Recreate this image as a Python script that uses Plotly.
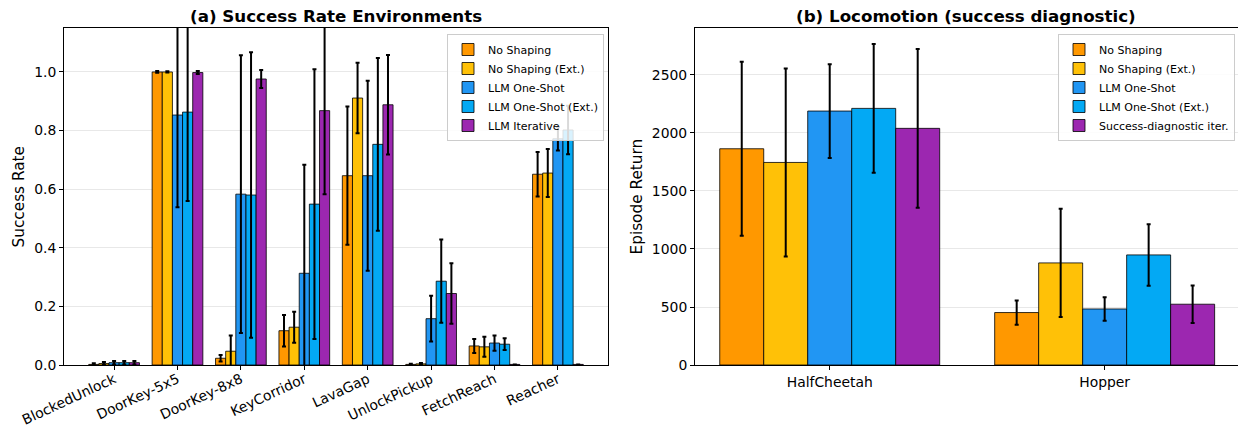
import plotly.graph_objects as go

# ---------------- data ----------------
envs = ["BlockedUnlock", "DoorKey-5x5", "DoorKey-8x8", "KeyCorridor",
        "LavaGap", "UnlockPickup", "FetchReach", "Reacher"]
methods_a = ["No Shaping", "No Shaping (Ext.)", "LLM One-Shot",
             "LLM One-Shot (Ext.)", "LLM Iterative"]

sr_no_shaping         = [0.002, 1.000, 0.023, 0.117, 0.646, 0.002, 0.065, 0.651]
sr_no_shaping_err     = [0.004, 0.003, 0.011, 0.054, 0.236, 0.002, 0.024, 0.076]
sr_no_shaping_ext     = [0.005, 1.000, 0.047, 0.129, 0.911, 0.004, 0.062, 0.655]
sr_no_shaping_ext_err = [0.005, 0.002, 0.054, 0.053, 0.120, 0.003, 0.034, 0.082]
sr_one_shot           = [0.008, 0.853, 0.583, 0.313, 0.646, 0.158, 0.075, 0.772]
sr_one_shot_err       = [0.006, 0.315, 0.474, 0.370, 0.324, 0.078, 0.026, 0.040]
sr_one_shot_ext       = [0.008, 0.863, 0.580, 0.549, 0.753, 0.286, 0.071, 0.802]
sr_one_shot_ext_err   = [0.006, 0.303, 0.487, 0.460, 0.295, 0.142, 0.020, 0.083]
sr_iterative          = [0.008, 0.998, 0.976, 0.868, 0.888, 0.244, 0.002, 0.002]
sr_iterative_err      = [0.006, 0.005, 0.031, 0.285, 0.170, 0.103, 0.000, 0.000]

loco_envs = ["HalfCheetah", "Hopper"]
methods_b = ["No Shaping", "No Shaping (Ext.)", "LLM One-Shot",
             "LLM One-Shot (Ext.)", "Success-diagnostic iter."]
ret_no_shaping         = [1864, 452]
ret_no_shaping_err     = [750, 104]
ret_no_shaping_ext     = [1746, 880]
ret_no_shaping_ext_err = [810, 466]
ret_one_shot           = [2189, 483]
ret_one_shot_err       = [404, 102]
ret_one_shot_ext       = [2212, 949]
ret_one_shot_ext_err   = [555, 265]
ret_iterative          = [2040, 524]
ret_iterative_err      = [685, 161]

colors = ["#FF9800", "#FFC107", "#2196F3", "#03A9F4", "#9C27B0"]

# ---------------- figure ----------------
W, H = 1238, 426
ML, MR, MT, MB = 64, 0, 28, 61
FONT = "DejaVu Sans"
pw = W - ML - MR
ph = H - MT - MB


def px(x):
    return (x - ML) / pw


fig = go.Figure()

vals_a = [sr_no_shaping, sr_no_shaping_ext, sr_one_shot, sr_one_shot_ext, sr_iterative]
errs_a = [sr_no_shaping_err, sr_no_shaping_ext_err, sr_one_shot_err,
          sr_one_shot_ext_err, sr_iterative_err]
for name, v, e, c in zip(methods_a, vals_a, errs_a, colors):
    fig.add_trace(go.Bar(
        x=envs, y=v, name=name, xaxis="x", yaxis="y", legend="legend",
        marker=dict(color=c, line=dict(color="rgba(0,0,0,0.8)", width=1)),
        error_y=dict(type="data", array=e, visible=True, color="black",
                     thickness=2, width=2),
    ))

vals_b = [ret_no_shaping, ret_no_shaping_ext, ret_one_shot, ret_one_shot_ext, ret_iterative]
errs_b = [ret_no_shaping_err, ret_no_shaping_ext_err, ret_one_shot_err,
          ret_one_shot_ext_err, ret_iterative_err]
for name, v, e, c in zip(methods_b, vals_b, errs_b, colors):
    fig.add_trace(go.Bar(
        x=loco_envs, y=v, name=name, xaxis="x2", yaxis="y2", legend="legend2",
        marker=dict(color=c, line=dict(color="rgba(0,0,0,0.8)", width=1)),
        error_y=dict(type="data", array=e, visible=True, color="black",
                     thickness=2, width=2),
    ))

axis_common = dict(showline=True, linecolor="black", linewidth=1, mirror=True,
                   ticks="outside", ticklen=4, tickcolor="black", tickwidth=1,
                   tickfont=dict(family=FONT, size=13.9, color="black"),
                   zeroline=False, automargin=False)

fig.update_layout(
    width=W, height=H,
    margin=dict(l=ML, r=MR, t=MT, b=MB, autoexpand=False),
    paper_bgcolor="white", plot_bgcolor="white",
    barmode="group", bargap=0.2, bargroupgap=0,
    font=dict(family=FONT, color="black"),
    xaxis=dict(domain=[0, px(608)], anchor="y", type="category",
               range=[-0.79, 7.79], tickangle=-25, ticklabelstandoff=-4,
               showgrid=False, **axis_common),
    yaxis=dict(domain=[0, 1], anchor="x", range=[0, 1.15],
               tickvals=[0, 0.2, 0.4, 0.6, 0.8, 1.0], tickformat=".1f",
               showgrid=True, gridcolor="#e8e8e8", gridwidth=1, **axis_common),
    xaxis2=dict(domain=[px(695), 1.0], anchor="y2", type="category",
                range=[-0.49, 1.485], showgrid=False, **axis_common),
    yaxis2=dict(domain=[0, 1], anchor="x2", range=[0, 2905],
                tickvals=[0, 500, 1000, 1500, 2000, 2500],
                showgrid=True, gridcolor="#e8e8e8", gridwidth=1, **axis_common),
    legend=dict(x=px(604), y=1 - 6 / ph, xanchor="right", yanchor="top",
                bgcolor="rgba(255,255,255,0.85)", bordercolor="#cccccc", borderwidth=1,
                font=dict(family=FONT, size=11, color="black"),
                tracegroupgap=0, itemwidth=30),
    legend2=dict(x=px(1235), y=1 - 6 / ph, xanchor="right", yanchor="top",
                 bgcolor="rgba(255,255,255,0.85)", bordercolor="#cccccc", borderwidth=1,
                 font=dict(family=FONT, size=11, color="black"),
                 tracegroupgap=0, itemwidth=30),
    showlegend=True,
)

annotations = [
    dict(text="<b>(a) Success Rate Environments</b>", x=px(336), y=1 + 12 / ph,
         xref="paper", yref="paper", xanchor="center", yanchor="middle",
         showarrow=False, font=dict(family=FONT, size=16.7, color="black")),
    dict(text="<b>(b) Locomotion (success diagnostic)</b>", x=px(966), y=1 + 12 / ph,
         xref="paper", yref="paper", xanchor="center", yanchor="middle",
         showarrow=False, font=dict(family=FONT, size=16.7, color="black")),
    dict(text="Success Rate", x=px(18), y=0.5, xref="paper", yref="paper",
         xanchor="center", yanchor="middle", textangle=-90, showarrow=False,
         font=dict(family=FONT, size=15.3, color="black")),
    dict(text="Episode Return", x=px(636), y=0.5, xref="paper", yref="paper",
         xanchor="center", yanchor="middle", textangle=-90, showarrow=False,
         font=dict(family=FONT, size=15.3, color="black")),
]
fig.update_layout(annotations=annotations)

fig.write_html("out.html",
               config={"displayModeBar": False},
               post_script="document.body.style.margin='0px';"
                           "document.body.style.overflow='hidden';")
